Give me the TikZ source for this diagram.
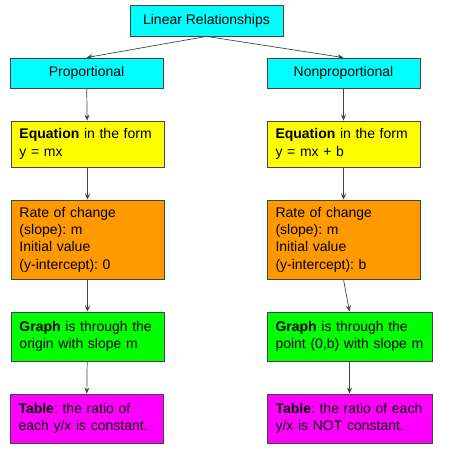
\documentclass[tikz,border=0pt]{standalone}
\usepackage{fontspec}
\setmainfont{Liberation Sans}
\usetikzlibrary{arrows.meta}
\definecolor{cy}{HTML}{00FFFF}
\definecolor{ye}{HTML}{FFFF00}
\definecolor{or}{HTML}{FF9900}
\definecolor{gr}{HTML}{00FF00}
\definecolor{mg}{HTML}{FF00FF}
\definecolor{g}{HTML}{444444}
\frenchspacing

\begin{document}
\begin{tikzpicture}[x=1pt, y=-1pt,
		box/.style={draw=g, line width=0.8pt, inner ysep=2pt, font=\fontsize{14}{17.3}\selectfont},
		txt/.style={box, align=left, inner xsep=8.5pt},
		link/.style={draw=g, line width=0.7pt, -{Stealth[length=6pt, width=5pt]}}]
			\useasboundingbox (0,0) rectangle (449,452);

			% Top row
			\node[box, fill=cy, minimum width=153pt, minimum height=31pt] (lin) at (206.5,20.5) {Linear Relationships};
			\node[box, fill=cy, minimum width=153pt, minimum height=30pt] (prop) at (86.5,73) {Proportional};
			\node[box, fill=cy, minimum width=153pt, minimum height=30pt] (nonp) at (343.5,73) {Nonproportional};

			% Left column
			\node[txt, fill=ye, text width=136pt, minimum height=46pt] (eqL) at (87.5,144) {\textbf{Equation} in the form\\y = mx};
			\node[txt, fill=or, text width=136pt, minimum height=79pt] (rateL) at (87.5,239.5) {Rate of change\\(slope): m\\Initial value\\(y-intercept): 0};
			\node[txt, fill=gr, text width=136pt, minimum height=49pt] (graphL) at (87.5,336.5) {\mbox{\textbf{Graph} is through the}\\origin with slope m};
			\node[txt, fill=mg, text width=136pt, minimum height=49pt] (tabL) at (86.5,418.5) {\textbf{Table}: the ratio of\\\mbox{each y/x is constant.}};

			% Right column
			\node[txt, fill=ye, text width=136pt, minimum height=46pt] (eqR) at (343.5,144) {\textbf{Equation} in the form\\y = mx + b};
			\node[txt, fill=or, text width=136pt, minimum height=79pt] (rateR) at (343.5,239.5) {Rate of change\\(slope): m\\Initial value\\(y-intercept): b};
			\node[txt, fill=gr, text width=148pt, minimum height=49pt] (graphR) at (349.5,336.5) {\textbf{Graph} is through the\\\mbox{point (0,b) with slope m}};
			\node[txt, fill=mg, text width=148pt, minimum height=49pt] (tabR) at (349.5,418.5) {\mbox{\textbf{Table}: the ratio of each}\\y/x is NOT constant.};

			% Arrows
			\draw[link] (lin.south) -- (prop.north);
			\draw[link] (lin.south) -- (nonp.north);
			\draw[link] (prop) -- (eqL);
			\draw[link] (eqL) -- (rateL);
			\draw[link] (rateL) -- (graphL);
			\draw[link] (graphL) -- (tabL);
			\draw[link] (nonp) -- (eqR);
			\draw[link] (eqR) -- (rateR);
			\draw[link] (rateR.south) -- (graphR.north);
			\draw[link] (graphR) -- (tabR);
		\end{tikzpicture}
\end{document}
